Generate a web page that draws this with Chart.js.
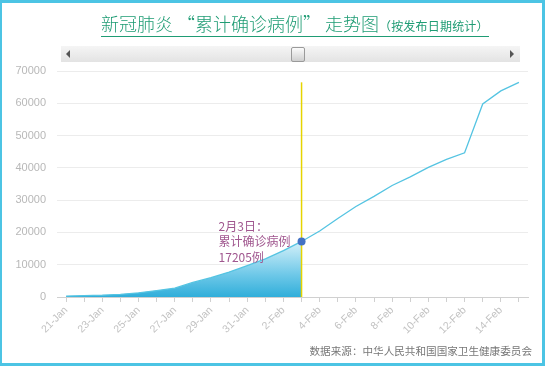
<!DOCTYPE html>
<html>
<head>
<meta charset="utf-8">
<script src="https://cdn.jsdelivr.net/npm/chart.js@4"></script>
<style>
html, body { margin: 0; padding: 0; background: #fff; }
#wrap { position: absolute; left: 0; top: 0; width: 545px; height: 366px; }
#frame { position: absolute; left: 0; top: 0; width: 545px; height: 366px; box-sizing: border-box;
	border: 3px solid #4cc4e4; border-left-width: 2px; pointer-events: none; z-index: 5; }
#title { position: absolute; left: 101px; top: 13px; width: 388px; white-space: nowrap;
	font-family: "Noto Sans CJK SC", sans-serif; color: #1f9c74; line-height: 20px;
	border-bottom: 1px solid #1f9c74; z-index: 3; }
#title .main { font-size: 18px; font-weight: 300; }
#title .sub { font-size: 12px; letter-spacing: 0.2px; }
#scroll { position: absolute; left: 61px; top: 46px; width: 459px; height: 16px;
	background: linear-gradient(#f5f5f5, #e3e3e3); z-index: 3; }
#scroll .al, #scroll .ar { position: absolute; top: 4px; width: 0; height: 0;
	border-top: 4px solid transparent; border-bottom: 4px solid transparent; }
#scroll .al { left: 5px; border-right: 4px solid #555; }
#scroll .ar { right: 6px; border-left: 4px solid #555; }
#scroll .thumb { position: absolute; left: 230px; top: 1px; width: 12px; height: 13px;
	border: 1px solid #9a9a9a; border-radius: 2px; background: linear-gradient(#fbfbfb, #cfcfcf); }
#source { position: absolute; right: 13px; top: 343px; line-height: 16px; font-size: 10.6px;
	font-family: "Noto Sans CJK SC", sans-serif; color: #777; z-index: 3; }
</style>
</head>
<body>
<div id="wrap"><canvas id="casesChart"></canvas></div>
<div id="title"><span class="main">新冠肺炎 “累计确诊病例” 走势图</span><span class="sub">（按发布日期统计）</span></div>
<div id="scroll"><div class="al"></div><div class="thumb"></div><div class="ar"></div></div>
<div id="source">数据来源：中华人民共和国国家卫生健康委员会</div>
<div id="frame"></div>
<script>
const dates = ['21-Jan', '22-Jan', '23-Jan', '24-Jan', '25-Jan', '26-Jan', '27-Jan', '28-Jan', '29-Jan',
	'30-Jan', '31-Jan', '1-Feb', '2-Feb', '3-Feb', '4-Feb', '5-Feb', '6-Feb', '7-Feb', '8-Feb',
	'9-Feb', '10-Feb', '11-Feb', '12-Feb', '13-Feb', '14-Feb', '15-Feb'];
const confirmed = [291, 440, 571, 830, 1287, 1975, 2744, 4515, 5974, 7711, 9692, 11791, 14380, 17205,
	20438, 24324, 28018, 31161, 34546, 37198, 40171, 42638, 44653, 59804, 63851, 66492];
const yTicks = [0, 10000, 20000, 30000, 40000, 50000, 60000, 70000];
const highlightDate = '3-Feb';
const highlightText = ['2月3日：', '累计确诊病例'];

const hi = dates.indexOf(highlightDate);
const filled = confirmed.map((v, i) => (i <= hi ? v : null));

// yellow marker line, drawn after the filled area but under the blue line
const markerLine = {
	id: 'markerLine',
	afterDatasetDraw(chart, args) {
		if (args.index !== 1) return;
		const { ctx, scales: { x, y } } = chart;
		const px = x.getPixelForValue(hi);
		ctx.save();
		ctx.strokeStyle = '#e6d400';
		ctx.lineWidth = 1.5;
		ctx.beginPath();
		ctx.moveTo(px, y.getPixelForValue(Math.max(...confirmed)));
		ctx.lineTo(px, y.getPixelForValue(0));
		ctx.stroke();
		ctx.restore();
	},
	afterDraw(chart) {
		const el = chart.getDatasetMeta(0).data[hi];
		const ctx = chart.ctx;
		const lines = [...highlightText, confirmed[hi] + '例'];
		ctx.save();
		ctx.fillStyle = '#a0578f';
		ctx.font = '12px "Noto Sans CJK SC"';
		ctx.textAlign = 'left';
		ctx.textBaseline = 'middle';
		lines.forEach((t, k) => ctx.fillText(t, el.x - 83, el.y + (k - 1) * 15.5));
		ctx.restore();
	}
};

const ctx = document.getElementById('casesChart').getContext('2d');
new Chart(ctx, {
	type: 'line',
	data: {
		labels: dates,
		datasets: [{
			data: confirmed,
			borderColor: '#55c4e2',
			borderWidth: 1.3,
			tension: 0,
			fill: false,
			pointRadius: c => (c.dataIndex === hi ? 4 : 0),
			pointBackgroundColor: '#4472c4',
			pointBorderColor: '#4472c4',
			pointBorderWidth: 0
		}, {
			data: filled,
			borderWidth: 0,
			pointRadius: 0,
			tension: 0,
			fill: 'origin',
			backgroundColor: function (c) {
				const area = c.chart.chartArea;
				if (!area) return '#5cc6e6';
				const yScale = c.chart.scales.y;
				const g = c.chart.ctx.createLinearGradient(0, yScale.getPixelForValue(confirmed[hi]), 0, area.bottom);
				g.addColorStop(0, 'rgba(214,241,249,1)');
				g.addColorStop(0.6, 'rgba(110,200,232,1)');
				g.addColorStop(1, 'rgba(48,174,218,1)');
				return g;
			}
		}]
	},
	options: {
		responsive: true,
		maintainAspectRatio: false,
		animation: false,
		layout: { padding: { top: 71, left: 0, right: 17, bottom: 29 } },
		plugins: { legend: { display: false }, tooltip: { enabled: false } },
		scales: {
			x: {
				offset: true,
				grid: { drawOnChartArea: false, drawTicks: true, tickLength: 5, color: '#d0d0d0' },
				border: { color: '#d0d0d0' },
				ticks: {
					autoSkip: false,
					minRotation: 45,
					maxRotation: 45,
					padding: 2,
					color: '#c2c2c2',
					font: { family: 'Liberation Sans', size: 10.5 },
					callback: (v, i) => (i % 2 === 0 ? dates[i] : '')
				},
				afterFit: s => { s.height = 40; }
			},
			y: {
				min: yTicks[0],
				max: yTicks[yTicks.length - 1],
				afterBuildTicks: s => { s.ticks = yTicks.map(v => ({ value: v })); },
				grid: { color: '#ececec', drawTicks: false },
				border: { display: false },
				ticks: {
					padding: 11,
					color: '#b8b8b8',
					font: { family: 'Liberation Sans', size: 11 },
					callback: v => String(v)
				},
				afterFit: s => { s.width = 57; }
			}
		}
	},
	plugins: [markerLine]
});
</script>
</body>
</html>
